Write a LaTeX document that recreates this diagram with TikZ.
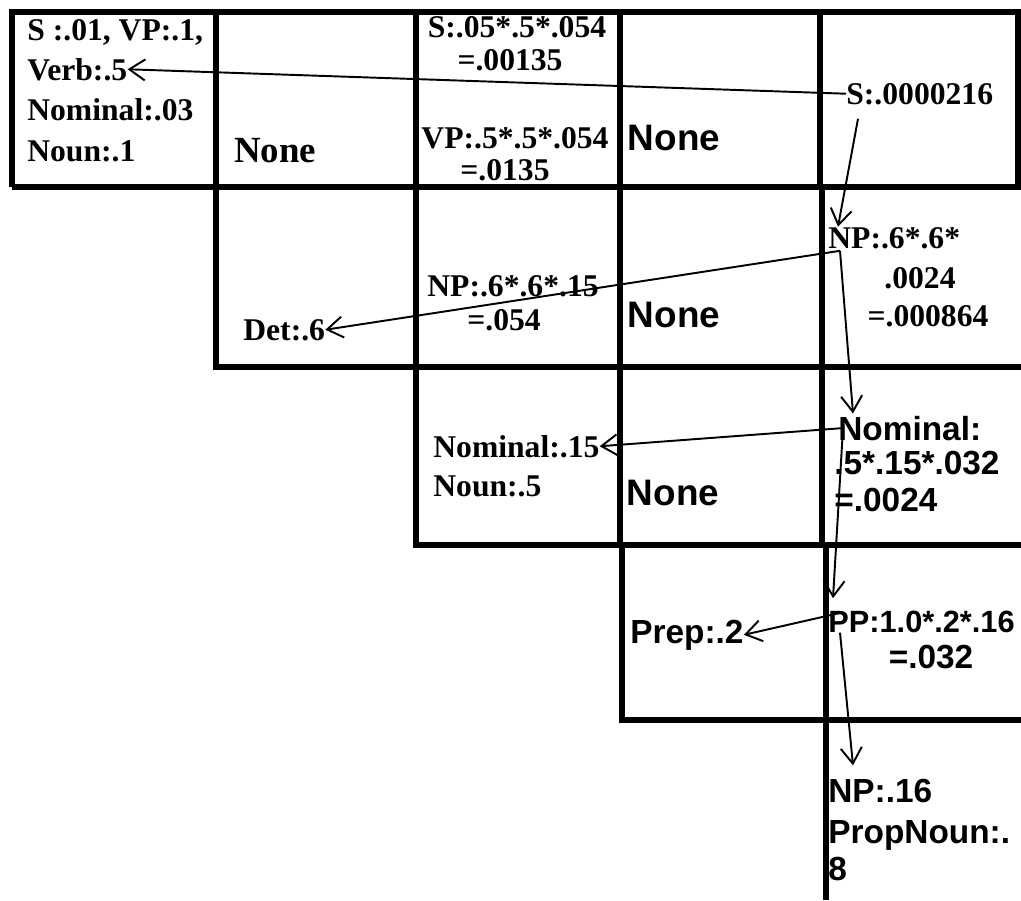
\documentclass[tikz,border=0pt]{standalone}
\usepackage{fontspec}
\setmainfont{Liberation Serif}
\newfontfamily\arialfont{Liberation Sans}
\usetikzlibrary{arrows.meta}

\begin{document}
\begin{tikzpicture}[x=0.02cm,y=-0.02cm,
	cell/.style={line width=3pt},
	tx/.style={inner sep=0pt,font=\bfseries\fontsize{18}{22}\selectfont},
	ax/.style={inner sep=0pt,font=\arialfont\bfseries\fontsize{19}{22}\selectfont},
	bp/.style={->,>={Straight Barb[length=9pt,width=12pt]},line width=1.1pt}]
	\clip (0,0) rectangle (1021,900);
	%grille
	\draw [cell] (12,187) -- (12,12) -- (1018,12) -- (1018,187);
	\draw [cell] (12,187) -- (1030,187);
	\draw [cell] (216,12) -- (216,367) -- (1030,367);
	\draw [cell] (416,12) -- (416,545) -- (1030,545);
	\draw [cell] (620,12) -- (620,545);
	\draw [cell] (622,545) -- (622,720) -- (1030,720);
	\draw [cell] (820,12) -- (820,187);
	\draw [cell] (822,187) -- (822,545);
	\draw [cell] (826,545) -- (826,900);
	%fin
	%ligne 1
	\node [tx,anchor=base west] (s11) at (27,40) {S :.01, VP:.1,};
	\node [tx,anchor=base west] (verb) at (27,80) {Verb:.5};
	\node [tx,anchor=base west] (nom11) at (27,120) {Nominal:.03};
	\node [tx,anchor=base west] (noun11) at (27,161) {Noun:.1};
	\node [tx,anchor=base,font=\bfseries\fontsize{21}{24}\selectfont] (none12) at (275,162) {None};
	\node [tx,anchor=base] (s13) at (517,37) {S:.05*.5*.054};
	\node [tx,anchor=base] (s13b) at (510,70) {=.00135};
	\node [tx,anchor=base] (vp13) at (515,148) {VP:.5*.5*.054};
	\node [tx,anchor=base] (vp13b) at (505,180) {=.0135};
	\node [ax,anchor=base,font=\arialfont\bfseries\fontsize{21}{24}\selectfont] (none14) at (674,150) {None};
	\node [tx,anchor=base west] (s15) at (846,104) {S:.0000216};
	%ligne 2
	\node [tx,anchor=base west] (det) at (243,340) {Det:.6};
	\node [tx,anchor=base] (np23) at (513,296) {NP:.6*.6*.15};
	\node [tx,anchor=base] (np23b) at (504,330) {=.054};
	\node [ax,anchor=base,font=\arialfont\bfseries\fontsize{21}{24}\selectfont] (none24) at (674,327) {None};
	\node [tx,anchor=base west] (np25) at (828,248) {NP:.6*.6*};
	\node [tx,anchor=base] (np25b) at (920,288) {.0024};
	\node [tx,anchor=base] (np25c) at (928,326) {=.000864};
	%ligne 3
	\node [tx,anchor=base west] (nom33) at (433,457) {Nominal:.15};
	\node [tx,anchor=base west] (noun33) at (433,496) {Noun:.5};
	\node [ax,anchor=base,font=\arialfont\bfseries\fontsize{21}{24}\selectfont] (none34) at (673,505) {None};
	\node [ax,anchor=base west] (nom35) at (838,440) {Nominal:};
	\node [ax,anchor=base west] (nom35b) at (834,474) {.5*.15*.032};
	\node [ax,anchor=base west] (nom35c) at (834,511) {=.0024};
	%ligne 4
	\node [ax,anchor=base west] (prep) at (630,643) {Prep:.2};
	\node [ax,anchor=base west,font=\arialfont\bfseries\fontsize{17.5}{22}\selectfont] (pp45) at (828,632) {PP:1.0*.2*.16};
	\node [ax,anchor=base] (pp45b) at (931,668) {=.032};
	%ligne 5
	\node [ax,anchor=base west] (np55) at (828,802) {NP:.16};
	\node [ax,anchor=base west] (pn55) at (828,843) {PropNoun:.};
	\node [ax,anchor=base west] (eight) at (828,880) {8};
	%les fleches
	\draw [bp] (s15.west) -- (verb.east);
	\draw [bp] ([shift={(12,14)}]s15.south west) -- ([shift={(10,0)}]np25.north west);
	\draw [bp] ([shift={(12,2)}]np25.south west) -- (det.east);
	\draw [bp] ([shift={(12,2)}]np25.south west) -- ([shift={(15,-2)}]nom35.north west);
	\draw [bp] ([shift={(5,0)}]nom35.west) -- (nom33.east);
	\draw [bp] ([shift={(5,0)}]nom35.west) -- ([shift={(5,-12)}]pp45.north west);
	\draw [bp] ([shift={(10,-8)}]pp45.west) -- (prep.east);
	\draw [bp] ([shift={(12,0)}]pp45.south west) -- ([shift={(25,-13)}]np55.north west);
\end{tikzpicture}
\end{document}
